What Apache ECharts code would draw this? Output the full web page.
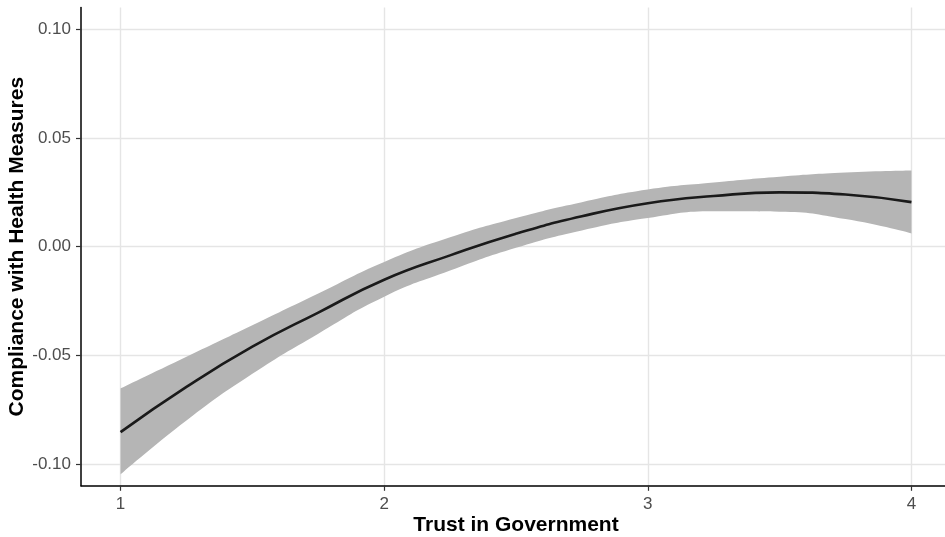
<!DOCTYPE html>
<html>
<head>
<meta charset="utf-8">
<script src="https://cdn.jsdelivr.net/npm/echarts@6/dist/echarts.min.js"></script>
<style>
  html, body { margin: 0; padding: 0; background: #ffffff; }
  #chart { width: 945px; height: 537px; }
</style>
</head>
<body>
<div id="chart"></div>
<script>
// Fitted curve of compliance against trust, with its confidence band
const trustLevels = [1.0, 1.25, 1.5, 1.75, 2.0, 2.25, 2.5, 2.75, 3.0, 3.25, 3.5, 3.75, 4.0];
const fitted      = [-0.0853, -0.0645, -0.0460, -0.0303, -0.0152, -0.0040, 0.0060, 0.0140, 0.0200, 0.0233, 0.0250, 0.0240, 0.0205];
const lowerBound  = [-0.1048, -0.0800, -0.0585, -0.0400, -0.0230, -0.0110, -0.0005, 0.0075, 0.0132, 0.0163, 0.0161, 0.0127, 0.0061];
const upperBound  = [-0.0652, -0.0506, -0.0361, -0.0215, -0.0070, 0.0043, 0.0132, 0.0205, 0.0263, 0.0295, 0.0322, 0.0341, 0.0350];

const xTicks = [1, 2, 3, 4];
const yTicks = [-0.10, -0.05, 0.00, 0.05, 0.10];

// Rows are [value, trust] so that stacking accumulates on the value (y) column
const lowerRows = trustLevels.map((x, i) => [lowerBound[i], x]);
const bandRows  = trustLevels.map((x, i) => [upperBound[i] - lowerBound[i], x]);
const fitPts    = trustLevels.map((x, i) => [x, fitted[i]]);

const chart = echarts.init(document.getElementById('chart'), null, { renderer: 'canvas' });

const font = '"Liberation Sans", Arial, Helvetica, sans-serif';
const gridLine = { show: true, lineStyle: { color: '#e5e5e5', width: 1.4 } };

chart.setOption({
  animation: false,
  backgroundColor: '#ffffff',
  grid: {
    left: 81, top: 7.6, width: 870, height: 478.2,
    containLabel: false, outerBoundsMode: 'none'
  },
  xAxis: {
    type: 'value',
    min: 0.85,
    max: 4.15,
    name: 'Trust in Government',
    nameLocation: 'middle',
    nameGap: 29,
    nameMoveOverlap: false,
    nameTextStyle: { fontFamily: font, fontSize: 21, fontWeight: 'bold', color: '#000000' },
    axisLine: { show: true, onZero: false, lineStyle: { color: '#000000', width: 1.5 } },
    axisTick: { show: true, customValues: xTicks, length: 5, lineStyle: { color: '#333333', width: 1.2 } },
    axisLabel: {
      customValues: xTicks, margin: 10,
      fontFamily: font, fontSize: 17, color: '#4d4d4d',
      formatter: v => String(v)
    },
    splitLine: gridLine
  },
  yAxis: {
    type: 'value',
    min: -0.11,
    max: 0.11,
    name: 'Compliance with Health Measures',
    nameLocation: 'middle',
    nameRotate: 90,
    nameGap: 53,
    nameMoveOverlap: false,
    nameTextStyle: { fontFamily: font, fontSize: 21, fontWeight: 'bold', color: '#000000' },
    axisLine: { show: true, onZero: false, lineStyle: { color: '#000000', width: 1.5 } },
    axisTick: { show: true, customValues: yTicks, length: 5, lineStyle: { color: '#333333', width: 1.2 } },
    axisLabel: {
      customValues: yTicks, margin: 10,
      fontFamily: font, fontSize: 17, color: '#4d4d4d',
      formatter: v => v.toFixed(2)
    },
    splitLine: gridLine
  },
  series: [
    {
      name: 'lower',
      type: 'line',
      stack: 'ci',
      stackStrategy: 'all',
      data: lowerRows,
      encode: { x: 1, y: 0 },
      smooth: true,
      symbol: 'none',
      lineStyle: { opacity: 0 },
      silent: true,
      z: 2
    },
    {
      name: 'band',
      type: 'line',
      stack: 'ci',
      stackStrategy: 'all',
      data: bandRows,
      encode: { x: 1, y: 0 },
      smooth: true,
      symbol: 'none',
      lineStyle: { opacity: 0 },
      areaStyle: { color: '#b5b5b5', opacity: 1 },
      silent: true,
      z: 2
    },
    {
      name: 'fit',
      type: 'line',
      data: fitPts,
      smooth: true,
      symbol: 'none',
      lineStyle: { color: '#1a1a1a', width: 2.6 },
      z: 3
    }
  ]
});
</script>
</body>
</html>
